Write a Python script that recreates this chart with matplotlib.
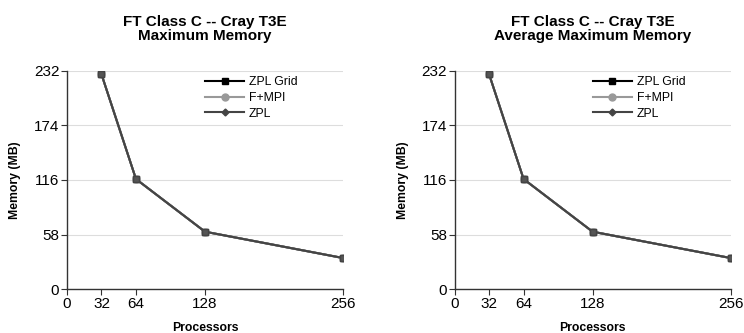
import matplotlib.pyplot as plt
from matplotlib.lines import Line2D

plt.rcParams['font.family'] = ['Liberation Sans', 'DejaVu Sans']

# data
processors = [32, 64, 128, 256]
zpl_grid = [228.5, 117, 61, 33]
f_mpi = [228.5, 117, 61, 33]
zpl = [228.5, 117, 61, 33]

x_ticks = [0, 32, 64, 128, 256]
y_ticks = [0, 58, 116, 174, 232]
titles = ['FT Class C -- Cray T3E\nMaximum Memory',
          'FT Class C -- Cray T3E\nAverage Maximum Memory']

fig = plt.figure(figsize=(7.44, 3.33), dpi=100)
ax1 = fig.add_axes([0.090, 0.132, 0.371, 0.655])
ax2 = fig.add_axes([0.611, 0.132, 0.371, 0.655])

for ax, title in zip([ax1, ax2], titles):
    ax.plot(processors, zpl_grid, color='black', marker='s', markersize=5, lw=1.5)
    ax.plot(processors, f_mpi, color='#999999', marker='o', markersize=5, lw=1.5)
    ax.plot(processors, zpl, color='#444444', marker='s', markersize=5,
            markerfacecolor='#555555', markeredgecolor='#444444', lw=1.5)

    ax.set_xlim(0, 256)
    ax.set_ylim(0, 232)
    ax.set_xticks(x_ticks)
    ax.set_yticks(y_ticks)
    ax.tick_params(labelsize=11, direction='out', length=4, width=0.8,
                   color='#333333', pad=1.5)
    ax.grid(axis='y', color='#dddddd', lw=0.8)
    ax.set_axisbelow(True)
    for s in ['top', 'right']:
        ax.spines[s].set_visible(False)
    for s in ['left', 'bottom']:
        ax.spines[s].set_color('#333333')
        ax.spines[s].set_linewidth(1.0)
        ax.spines[s].set_clip_on(False)

    ax.set_title(title, fontsize=11, fontweight='bold', pad=22, linespacing=1.0)
    ax.set_xlabel('Processors', fontsize=8.8, fontweight='bold', labelpad=8)
    ax.set_ylabel('Memory (MB)', fontsize=8.8, fontweight='bold', labelpad=9)

    handles = [
        Line2D([], [], color='black', marker='s', markersize=5, lw=1.5),
        Line2D([], [], color='#999999', marker='o', markersize=5, lw=1.5),
        Line2D([], [], color='#444444', marker='D', markersize=3.5, lw=1.5),
    ]
    ax.legend(handles, ['ZPL Grid', 'F+MPI', 'ZPL'], loc='upper left',
              bbox_to_anchor=(0.5, 0.975), frameon=False, fontsize=8.8,
              handlelength=3.2, handletextpad=0.4, labelspacing=0.3,
              borderaxespad=0, borderpad=0)

fig.savefig('out.png', dpi=100)
